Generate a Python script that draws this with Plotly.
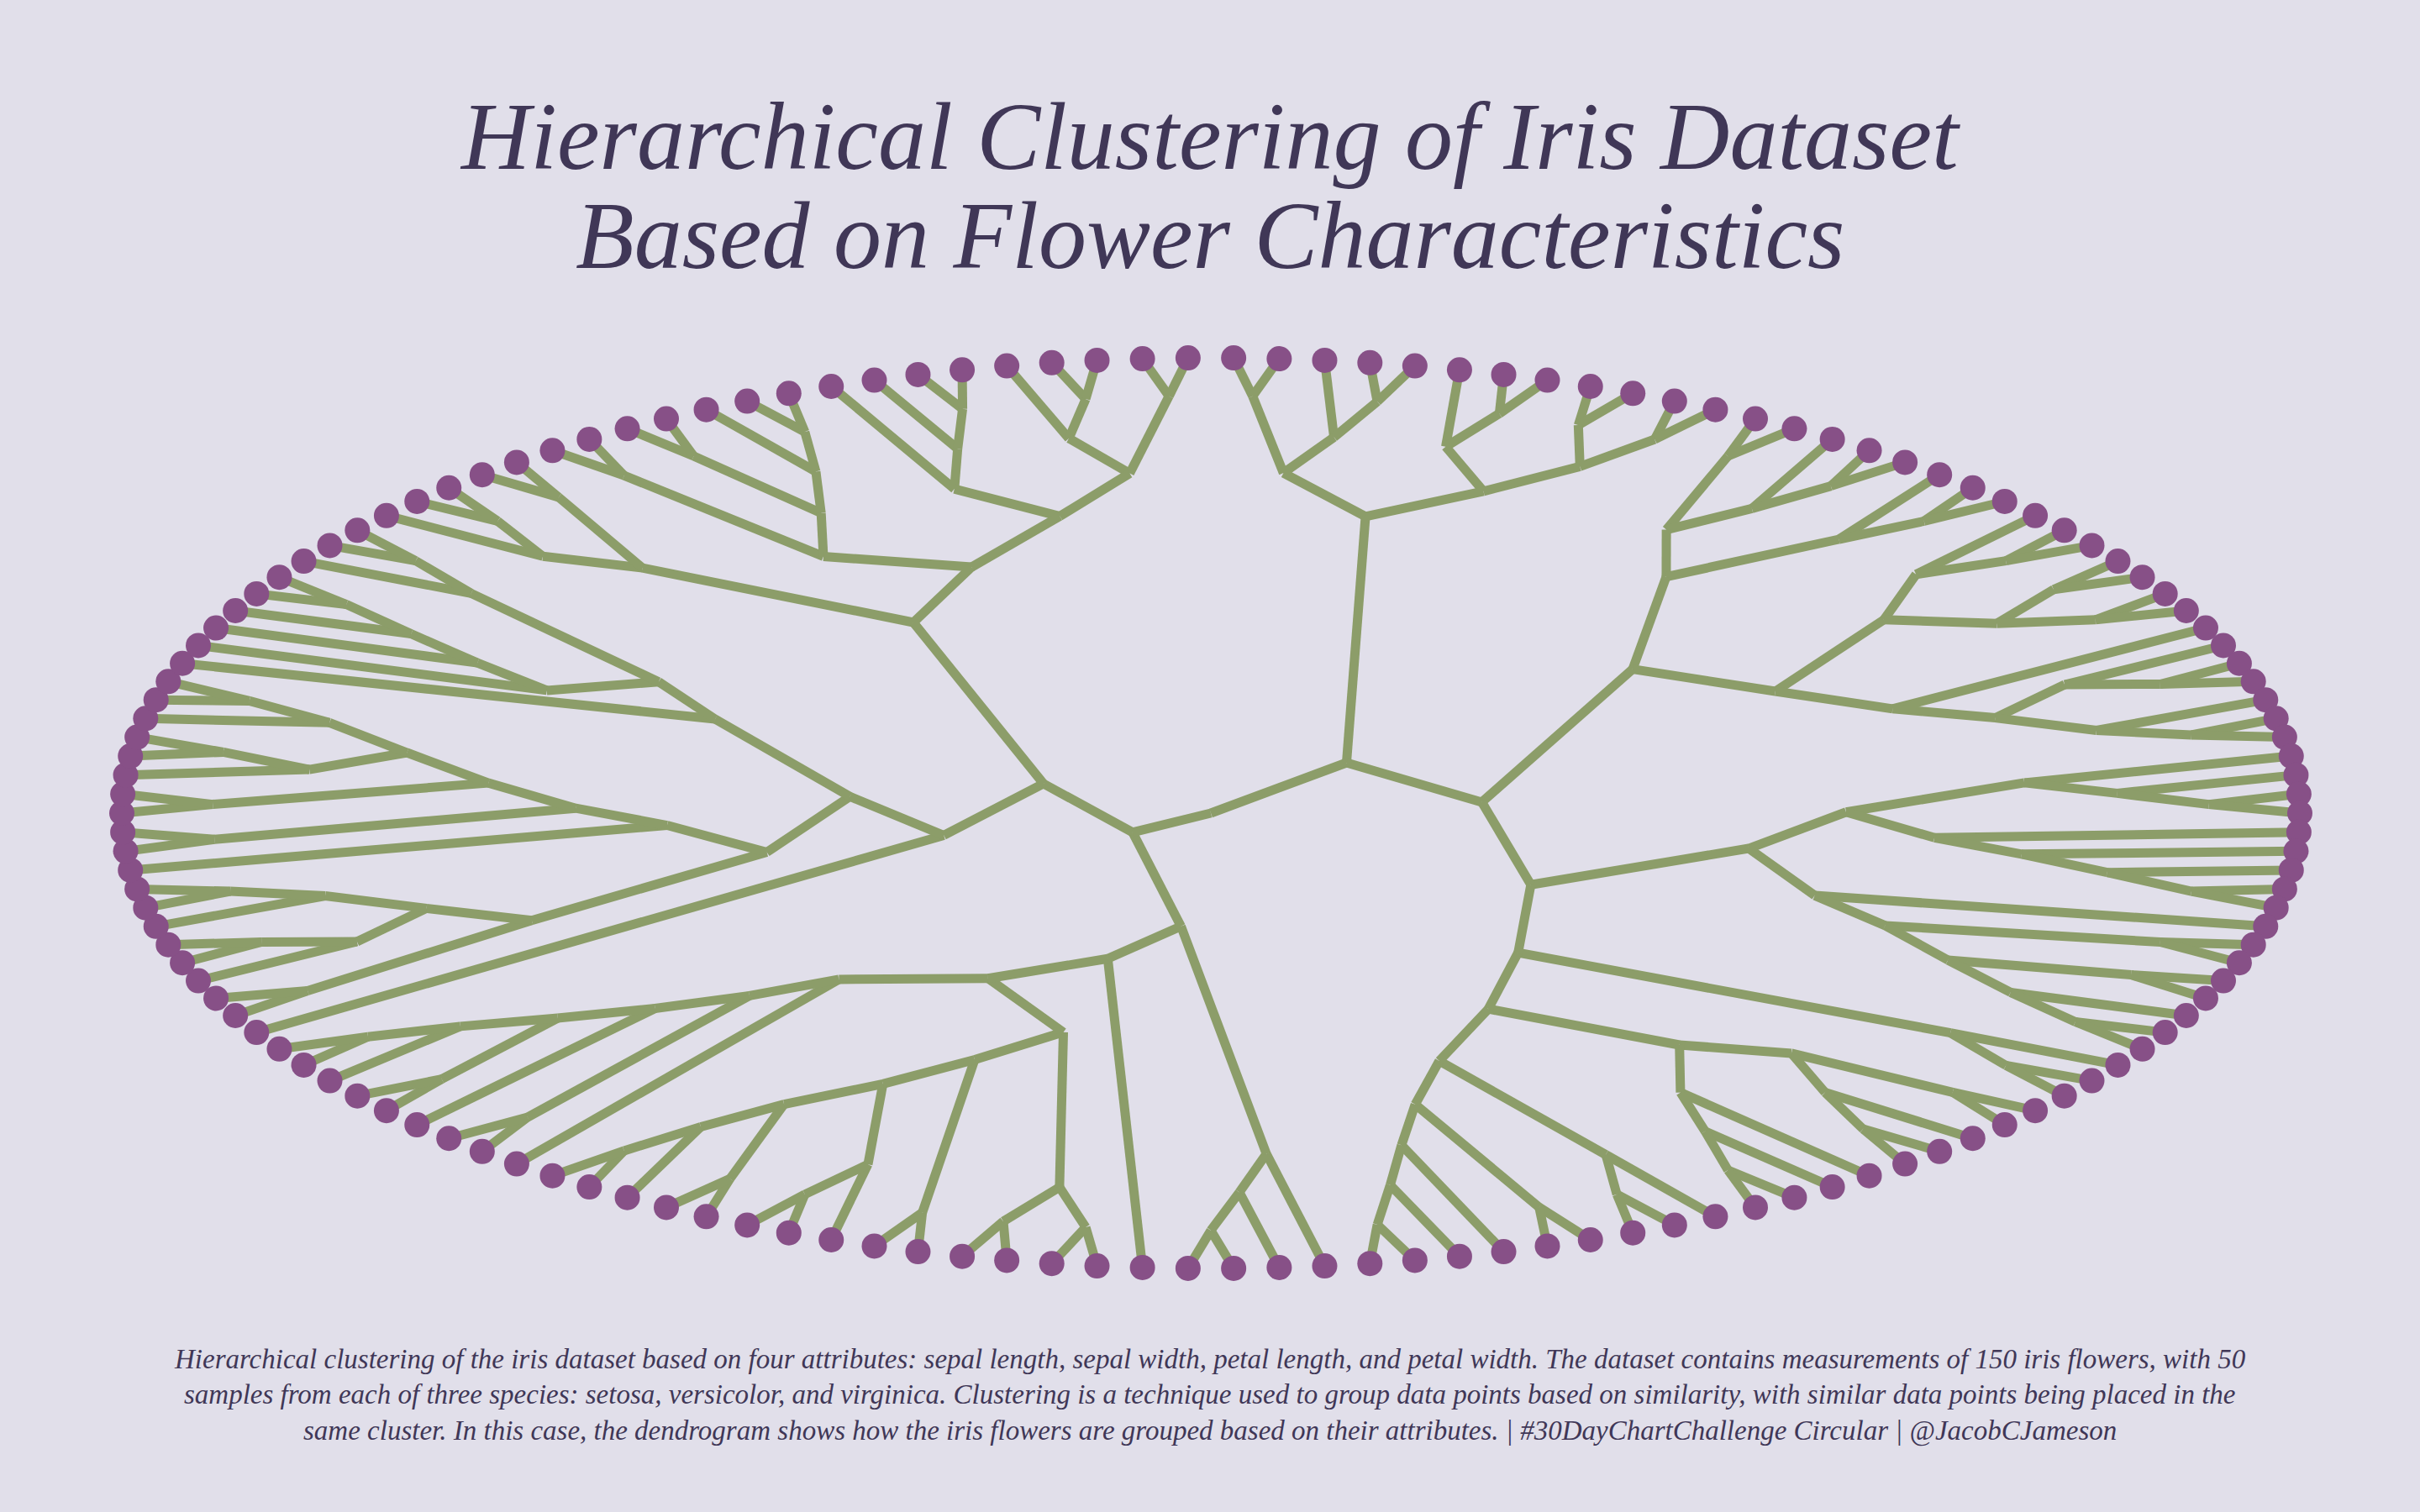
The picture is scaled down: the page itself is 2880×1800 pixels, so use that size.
import math
import plotly.graph_objects as go

# ---- Iris data (R datasets::iris), rows 1..150 ----
sepal_length = [
    5.1, 4.9, 4.7, 4.6, 5.0, 5.4, 4.6, 5.0, 4.4, 4.9, 5.4, 4.8, 4.8, 4.3, 5.8, 5.7, 5.4, 5.1, 5.7, 5.1,
    5.4, 5.1, 4.6, 5.1, 4.8, 5.0, 5.0, 5.2, 5.2, 4.7, 4.8, 5.4, 5.2, 5.5, 4.9, 5.0, 5.5, 4.9, 4.4, 5.1,
    5.0, 4.5, 4.4, 5.0, 5.1, 4.8, 5.1, 4.6, 5.3, 5.0,
    7.0, 6.4, 6.9, 5.5, 6.5, 5.7, 6.3, 4.9, 6.6, 5.2, 5.0, 5.9, 6.0, 6.1, 5.6, 6.7, 5.6, 5.8, 6.2, 5.6,
    5.9, 6.1, 6.3, 6.1, 6.4, 6.6, 6.8, 6.7, 6.0, 5.7, 5.5, 5.5, 5.8, 6.0, 5.4, 6.0, 6.7, 6.3, 5.6, 5.5,
    5.5, 6.1, 5.8, 5.0, 5.6, 5.7, 5.7, 6.2, 5.1, 5.7,
    6.3, 5.8, 7.1, 6.3, 6.5, 7.6, 4.9, 7.3, 6.7, 7.2, 6.5, 6.4, 6.8, 5.7, 5.8, 6.4, 6.5, 7.7, 7.7, 6.0,
    6.9, 5.6, 7.7, 6.3, 6.7, 7.2, 6.2, 6.1, 6.4, 7.2, 7.4, 7.9, 6.4, 6.3, 6.1, 7.7, 6.3, 6.4, 6.0, 6.9,
    6.7, 6.9, 5.8, 6.8, 6.7, 6.7, 6.3, 6.5, 6.2, 5.9]
sepal_width = [
    3.5, 3.0, 3.2, 3.1, 3.6, 3.9, 3.4, 3.4, 2.9, 3.1, 3.7, 3.4, 3.0, 3.0, 4.0, 4.4, 3.9, 3.5, 3.8, 3.8,
    3.4, 3.7, 3.6, 3.3, 3.4, 3.0, 3.4, 3.5, 3.4, 3.2, 3.1, 3.4, 4.1, 4.2, 3.1, 3.2, 3.5, 3.6, 3.0, 3.4,
    3.5, 2.3, 3.2, 3.5, 3.8, 3.0, 3.8, 3.2, 3.7, 3.3,
    3.2, 3.2, 3.1, 2.3, 2.8, 2.8, 3.3, 2.4, 2.9, 2.7, 2.0, 3.0, 2.2, 2.9, 2.9, 3.1, 3.0, 2.7, 2.2, 2.5,
    3.2, 2.8, 2.5, 2.8, 2.9, 3.0, 2.8, 3.0, 2.9, 2.6, 2.4, 2.4, 2.7, 2.7, 3.0, 3.4, 3.1, 2.3, 3.0, 2.5,
    2.6, 3.0, 2.6, 2.3, 2.7, 3.0, 2.9, 2.9, 2.5, 2.8,
    3.3, 2.7, 3.0, 2.9, 3.0, 3.0, 2.5, 2.9, 2.5, 3.6, 3.2, 2.7, 3.0, 2.5, 2.8, 3.2, 3.0, 3.8, 2.6, 2.2,
    3.2, 2.8, 2.8, 2.7, 3.3, 3.2, 2.8, 3.0, 2.8, 3.0, 2.8, 3.8, 2.8, 2.8, 2.6, 3.0, 3.4, 3.1, 3.0, 3.1,
    3.1, 3.1, 2.7, 3.2, 3.3, 3.0, 2.5, 3.0, 3.4, 3.0]
petal_length = [
    1.4, 1.4, 1.3, 1.5, 1.4, 1.7, 1.4, 1.5, 1.4, 1.5, 1.5, 1.6, 1.4, 1.1, 1.2, 1.5, 1.3, 1.4, 1.7, 1.5,
    1.7, 1.5, 1.0, 1.7, 1.9, 1.6, 1.6, 1.5, 1.4, 1.6, 1.6, 1.5, 1.5, 1.4, 1.5, 1.2, 1.3, 1.4, 1.3, 1.5,
    1.3, 1.3, 1.3, 1.6, 1.9, 1.4, 1.6, 1.4, 1.5, 1.4,
    4.7, 4.5, 4.9, 4.0, 4.6, 4.5, 4.7, 3.3, 4.6, 3.9, 3.5, 4.2, 4.0, 4.7, 3.6, 4.4, 4.5, 4.1, 4.5, 3.9,
    4.8, 4.0, 4.9, 4.7, 4.3, 4.4, 4.8, 5.0, 4.5, 3.5, 3.8, 3.7, 3.9, 5.1, 4.5, 4.5, 4.7, 4.4, 4.1, 4.0,
    4.4, 4.6, 4.0, 3.3, 4.2, 4.2, 4.2, 4.3, 3.0, 4.1,
    6.0, 5.1, 5.9, 5.6, 5.8, 6.6, 4.5, 6.3, 5.8, 6.1, 5.1, 5.3, 5.5, 5.0, 5.1, 5.3, 5.5, 6.7, 6.9, 5.0,
    5.7, 4.9, 6.7, 4.9, 5.7, 6.0, 4.8, 4.9, 5.6, 5.8, 6.1, 6.4, 5.6, 5.1, 5.6, 6.1, 5.6, 5.5, 4.8, 5.4,
    5.6, 5.1, 5.1, 5.9, 5.7, 5.2, 5.0, 5.2, 5.4, 5.1]
petal_width = [
    0.2, 0.2, 0.2, 0.2, 0.2, 0.4, 0.3, 0.2, 0.2, 0.1, 0.2, 0.2, 0.1, 0.1, 0.2, 0.4, 0.4, 0.3, 0.3, 0.3,
    0.2, 0.4, 0.2, 0.5, 0.2, 0.2, 0.4, 0.2, 0.2, 0.2, 0.2, 0.4, 0.1, 0.2, 0.2, 0.2, 0.2, 0.1, 0.2, 0.2,
    0.3, 0.3, 0.2, 0.6, 0.4, 0.3, 0.2, 0.2, 0.2, 0.2,
    1.4, 1.5, 1.5, 1.3, 1.5, 1.3, 1.6, 1.0, 1.3, 1.4, 1.0, 1.5, 1.0, 1.4, 1.3, 1.4, 1.5, 1.0, 1.5, 1.1,
    1.8, 1.3, 1.5, 1.2, 1.3, 1.4, 1.4, 1.7, 1.5, 1.0, 1.1, 1.0, 1.2, 1.6, 1.5, 1.6, 1.5, 1.3, 1.3, 1.3,
    1.2, 1.4, 1.2, 1.0, 1.3, 1.2, 1.3, 1.3, 1.1, 1.3,
    2.5, 1.9, 2.1, 1.8, 2.2, 2.1, 1.7, 1.8, 1.8, 2.5, 2.0, 1.9, 2.1, 2.0, 2.4, 2.3, 1.8, 2.2, 2.3, 1.5,
    2.3, 2.0, 2.0, 1.8, 2.1, 1.8, 1.8, 1.8, 2.1, 1.6, 1.9, 2.0, 2.2, 1.5, 1.4, 2.3, 2.4, 1.8, 1.8, 2.1,
    2.4, 2.3, 1.9, 2.3, 2.5, 2.3, 1.9, 2.0, 2.3, 1.8]

title_lines = ["Hierarchical Clustering of Iris Dataset",
               "Based on Flower Characteristics"]
caption_lines = [
    "Hierarchical clustering of the iris dataset based on four attributes: sepal length, sepal width, "
    "petal length, and petal width. The dataset contains measurements of 150 iris flowers, with 50",
    "samples from each of three species: setosa, versicolor, and virginica. Clustering is a technique "
    "used to group data points based on similarity, with similar data points being placed in the",
    "same cluster. In this case, the dendrogram shows how the iris flowers are grouped based on their "
    "attributes. | #30DayChartChallenge Circular | @JacobCJameson",
]

BG = "#E1DFEA"
EDGE = "#8C9D69"
LEAF = "#875087"
TEXT = "#403757"

# ---- complete-linkage hierarchical clustering (same scheme as R hclust) ----
X = list(zip(sepal_length, sepal_width, petal_length, petal_width))
n = len(X)
INF = float("inf")
diss = [[0.0] * n for _ in range(n)]
for i in range(n):
    for j in range(i + 1, n):
        s = 0.0
        for c in range(4):
            dev = X[i][c] - X[j][c]
            s += dev * dev
        diss[i][j] = diss[j][i] = math.sqrt(s)

flag = [True] * n
nn = [0] * n
disnn = [INF] * n
for i in range(n - 1):
    dmin, jm = INF, i + 1
    for j in range(i + 1, n):
        if dmin > diss[i][j]:
            dmin, jm = diss[i][j], j
    nn[i], disnn[i] = jm, dmin

ia, ib = [], []
ncl = n
jj = 0
while ncl > 1:
    dmin = INF
    im = jm = 0
    for i in range(n - 1):
        if flag[i] and disnn[i] < dmin:
            dmin, im, jm = disnn[i], i, nn[i]
    ncl -= 1
    i2, j2 = min(im, jm), max(im, jm)
    ia.append(i2 + 1)
    ib.append(j2 + 1)
    flag[j2] = False
    dmin = INF
    for k in range(n):
        if flag[k] and k != i2:
            v = max(diss[i2][k], diss[j2][k])
            diss[i2][k] = diss[k][i2] = v
            if i2 < k and v < dmin:
                dmin, jj = v, k
    disnn[i2], nn[i2] = dmin, jj
    for i in range(n - 1):
        if flag[i] and (nn[i] == i2 or nn[i] == j2):
            dmin = INF
            for j in range(i + 1, n):
                if flag[j] and diss[i][j] < dmin:
                    dmin, jj = diss[i][j], j
            nn[i], disnn[i] = jj, dmin

# hcass2: convert to merge matrix (negative = observation, positive = step)
m = n - 1
iia, iib = ia[:], ib[:]
for i in range(m - 1):
    k = min(ia[i], ib[i])
    for j in range(i + 1, m):
        if ia[j] == k:
            iia[j] = -(i + 1)
        if ib[j] == k:
            iib[j] = -(i + 1)
iia = [-v for v in iia]
iib = [-v for v in iib]
for i in range(m):
    if iia[i] > 0 and iib[i] < 0:
        iia[i], iib[i] = iib[i], iia[i]
    if iia[i] > 0 and iib[i] > 0:
        iia[i], iib[i] = min(iia[i], iib[i]), max(iia[i], iib[i])

# ---- dendrogram layout (leaf order, depth-based heights) ----
pos = {}
hgt = {}
counter = [0]


def walk(node):
    if node < 0:
        pos[node] = float(counter[0])
        counter[0] += 1
        hgt[node] = 0
        return
    a, b = iia[node - 1], iib[node - 1]
    walk(a)
    walk(b)
    pos[node] = (pos[a] + pos[b]) / 2.0
    hgt[node] = 1 + max(hgt[a], hgt[b])


root = m
walk(root)
H = hgt[root]


def xy(node):
    r = (H - hgt[node]) / H
    th = math.pi / 2 - (pos[node] + 0.5) * 2 * math.pi / n
    return r * math.cos(th), r * math.sin(th)


ex, ey = [], []
for s in range(1, m + 1):
    px, py = xy(s)
    for c in (iia[s - 1], iib[s - 1]):
        cx, cy = xy(c)
        ex += [px, cx, None]
        ey += [py, cy, None]

leaves = [k for k in pos if k < 0]
lx = [xy(k)[0] for k in leaves]
ly = [xy(k)[1] for k in leaves]

fig = go.Figure()
fig.add_trace(go.Scatter(x=ex, y=ey, mode="lines",
                         line=dict(color=EDGE, width=11), hoverinfo="skip"))
fig.add_trace(go.Scatter(x=lx, y=ly, mode="markers",
                         marker=dict(color=LEAF, size=30, line=dict(width=0)),
                         hoverinfo="skip"))

W, Hpx = 2880, 1800
cx_px, cy_px, ax_px, by_px = 1441, 968, 1296, 542

fig.update_layout(
    width=W, height=Hpx,
    margin=dict(l=0, r=0, t=0, b=0),
    paper_bgcolor=BG, plot_bgcolor=BG,
    showlegend=False,
    xaxis=dict(range=[-cx_px / ax_px, (W - cx_px) / ax_px], visible=False, fixedrange=True),
    yaxis=dict(range=[(cy_px - Hpx) / by_px, cy_px / by_px], visible=False, fixedrange=True),
)

for t, ypx in zip(title_lines, [163, 281]):
    fig.add_annotation(text="<i>" + t + "</i>", x=0.5, y=1 - ypx / Hpx, xref="paper", yref="paper",
                       xanchor="center", yanchor="middle", showarrow=False,
                       font=dict(family="Liberation Serif", size=114, color=TEXT))
for t, ypx in zip(caption_lines, [1618, 1660, 1703]):
    fig.add_annotation(text="<i>" + t + "</i>", x=0.5, y=1 - ypx / Hpx, xref="paper", yref="paper",
                       xanchor="center", yanchor="middle", showarrow=False,
                       font=dict(family="Liberation Serif", size=33, color=TEXT))

fig.write_html("out.html")
